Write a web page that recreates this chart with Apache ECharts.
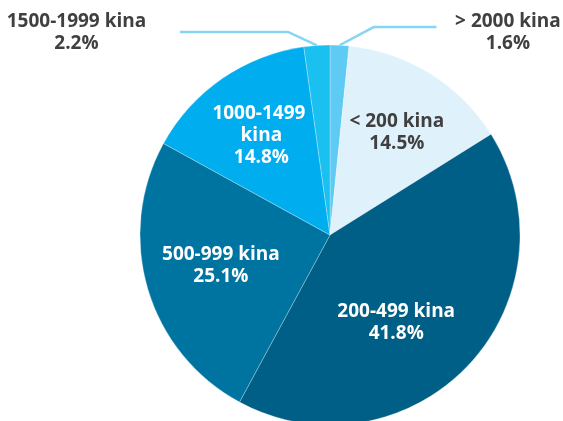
<!DOCTYPE html>
<html>
<head>
<meta charset="utf-8">
<script src="https://cdn.jsdelivr.net/npm/echarts@6/dist/echarts.min.js"></script>
<style>
  html, body { margin: 0; padding: 0; background: #fff; }
  #chart { width: 563px; height: 421px; }
</style>
</head>
<body>
<div id="chart"></div>
<script>
// slices, clockwise from 12 o'clock
var categories = ['> 2000 kina', '< 200 kina', '200-499 kina', '500-999 kina', '1000-1499 kina', '1500-1999 kina'];
var shares = [1.6, 14.5, 41.8, 25.1, 14.8, 2.2];

var sliceColors = ['#5ecbf5', '#dff2fb', '#005f86', '#0074a0', '#00aeef', '#19c0f0'];
var insideText = ['', '#404040', '#fff', '#fff', '#fff', ''];

var ink = '#404040';
var leader = '#86d5f5';
var font = '"Open Sans", "Noto Sans", sans-serif';

// callouts for the two thin slices
var callouts = {
  0: { length: 18.2, length2: 96, turn: 152, dist: 1.5, padTop: 12 },
  5: { length: 13.5, length2: 136, turn: 155, dist: 33.5, padTop: 2 }
};
// small nudges of the inside labels
var nudges = { 1: [3, 0], 2: [-22, 5], 3: [7, -4] };

var pieData = categories.map(function(name, i) {
  var c = callouts[i];
  var item = { name: name, value: shares[i], itemStyle: { color: sliceColors[i] } };
  if (c) {
    item.label = {
      show: true,
      position: 'outside',
      formatter: '{t|{b}}\n{t|{c}%}',
      distanceToLabelLine: c.dist,
      padding: [c.padTop, 0, 0, 0],
      rich: {
        t: { width: 140, align: 'center', fontFamily: font, fontWeight: 'bold', fontSize: 19, lineHeight: 22, color: ink }
      }
    };
    item.labelLine = {
      show: true, smooth: false, length: c.length, length2: c.length2, minTurnAngle: c.turn,
      lineStyle: { color: leader, width: 2.5 }
    };
  } else {
    item.label = { show: false };
    item.labelLine = { show: false };
  }
  return item;
});

// same slices again, transparent, only to carry the inside labels a bit further out
var labelData = categories.map(function(name, i) {
  var item = { name: name, value: shares[i] };
  if (callouts[i]) {
    item.label = { show: false };
  } else {
    item.label = { color: insideText[i] };
    if (nudges[i]) item.label.offset = nudges[i];
    if (i === 4) { item.label.width = 110; item.label.overflow = 'break'; }
  }
  return item;
});

var chart = echarts.init(document.getElementById('chart'), null, { renderer: 'canvas' });
chart.setOption({
  animation: false,
  series: [
    {
      type: 'pie',
      center: [330, 235],
      radius: [0, 190],
      startAngle: 90,
      clockwise: true,
      avoidLabelOverlap: false,
      silent: true,
      itemStyle: { borderColor: 'rgba(255,255,255,0.45)', borderWidth: 0.6 },
      data: pieData
    },
    {
      type: 'pie',
      center: [330, 235],
      radius: [46, 190],
      startAngle: 90,
      clockwise: true,
      avoidLabelOverlap: false,
      silent: true,
      itemStyle: { color: 'rgba(0,0,0,0)' },
      label: {
        show: true,
        position: 'inside',
        formatter: '{b}\n{c}%',
        fontFamily: font,
        fontWeight: 'bold',
        fontSize: 19,
        lineHeight: 22,
        align: 'center'
      },
      labelLine: { show: false },
      data: labelData
    }
  ]
});
</script>
</body>
</html>
